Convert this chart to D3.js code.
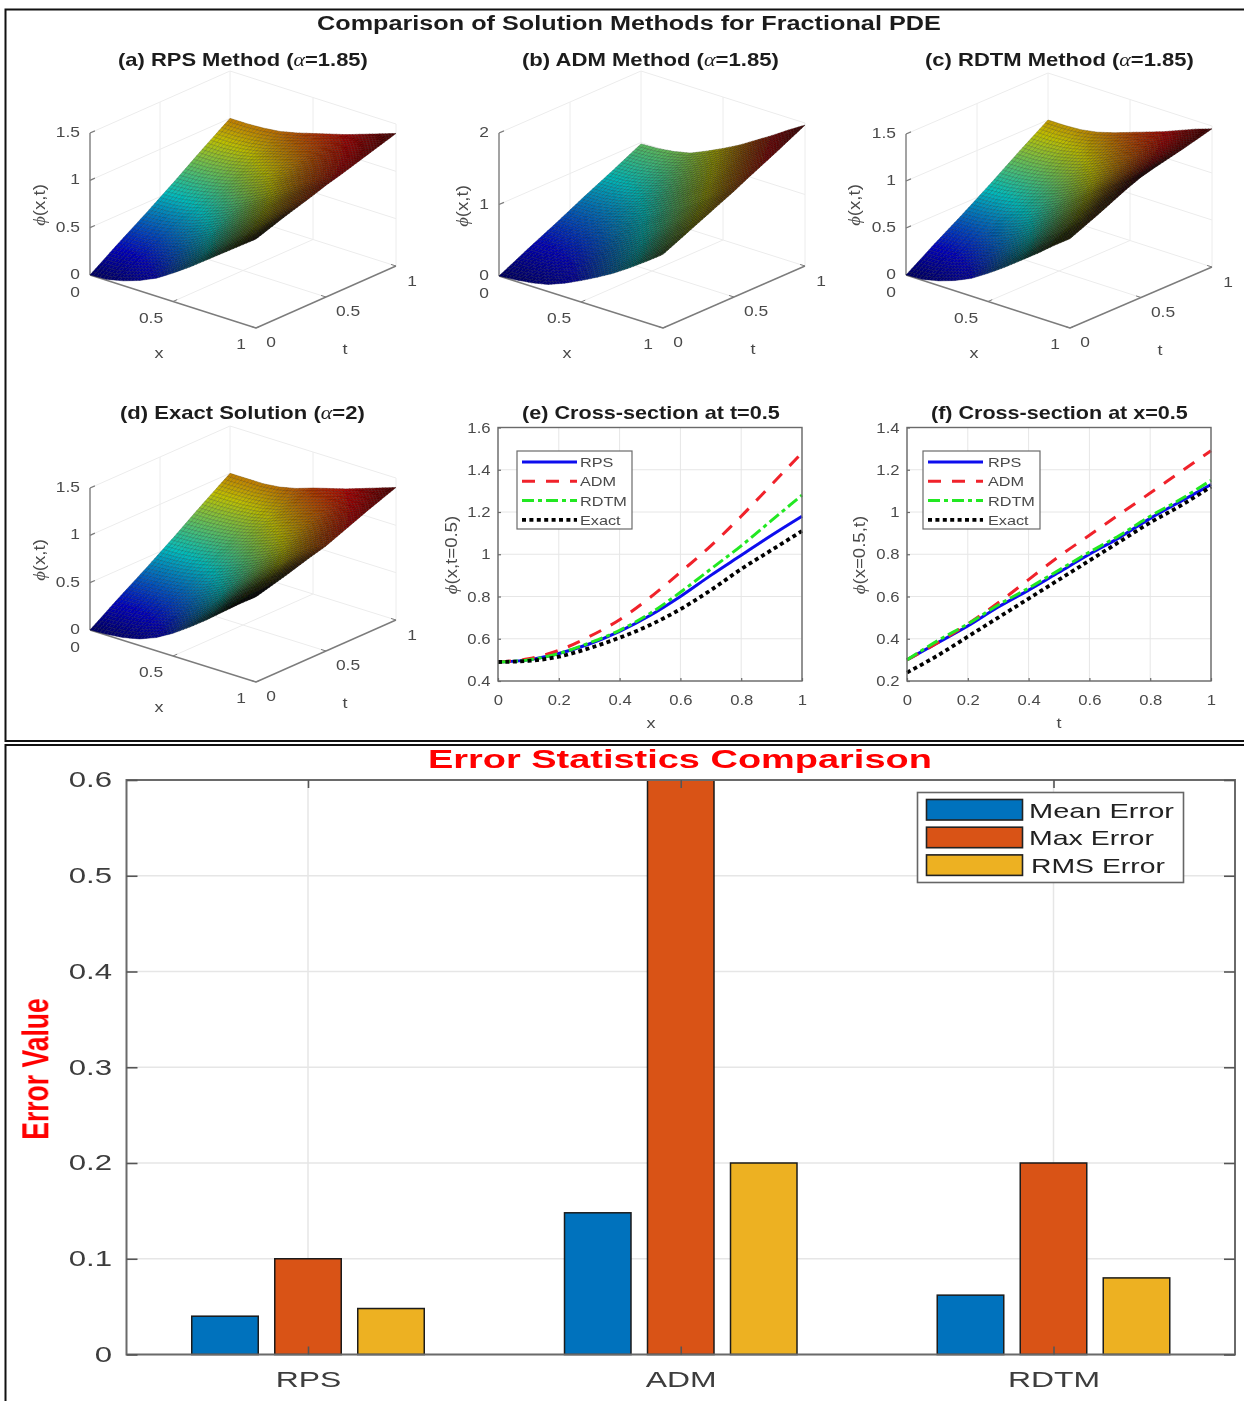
<!DOCTYPE html>
<html><head><meta charset="utf-8">
<script src="https://cdn.jsdelivr.net/npm/d3@7"></script>
<style>html,body{margin:0;padding:0;background:#fff;overflow:hidden}svg{display:block}text{font-family:"Liberation Sans",Arial,sans-serif}</style>
</head><body><svg id="c" width="1244" height="1401"></svg>
<script>
// ---------- data ----------
const gridX = [0,.1,.2,.3,.4,.5,.6,.7,.8,.9,1];
const gridT = [0,.2,.4,.5,.6,.8,1];
const surfRPS = [
 [0,.01,.05,.11,.19,.30,.42,.55,.68,.81,.94],
 [.20,.21,.24,.30,.37,.47,.58,.69,.81,.92,1.04],
 [.39,.40,.43,.48,.55,.63,.73,.83,.94,1.04,1.13],
 [.49,.50,.53,.575,.635,.71,.80,.90,.995,1.09,1.18],
 [.59,.60,.63,.67,.74,.81,.89,.98,1.06,1.14,1.22],
 [.80,.80,.82,.86,.92,.97,1.03,1.10,1.17,1.24,1.31],
 [1.0,1.0,1.01,1.03,1.07,1.12,1.17,1.22,1.28,1.34,1.40]];
const surfADM = [
 [0,.02,.05,.10,.19,.30,.42,.55,.70,.86,1.03],
 [.20,.21,.25,.30,.39,.50,.62,.75,.90,1.05,1.21],
 [.39,.41,.45,.51,.60,.70,.83,.95,1.09,1.24,1.39],
 [.49,.505,.545,.61,.69,.795,.915,1.04,1.18,1.33,1.48],
 [.59,.60,.64,.70,.79,.90,1.02,1.15,1.29,1.43,1.58],
 [.78,.79,.83,.89,.98,1.09,1.21,1.34,1.48,1.63,1.77],
 [.98,.99,1.02,1.07,1.17,1.28,1.40,1.54,1.68,1.83,1.97]];
const surfRDTM = [
 [0,.01,.05,.11,.19,.30,.42,.55,.68,.82,.95],
 [.20,.21,.24,.30,.37,.47,.58,.70,.82,.95,1.08],
 [.39,.40,.43,.48,.55,.64,.74,.85,.97,1.09,1.22],
 [.49,.50,.53,.58,.64,.72,.82,.93,1.04,1.16,1.28],
 [.59,.60,.63,.67,.73,.81,.90,1.00,1.10,1.21,1.32],
 [.80,.80,.82,.86,.91,.98,1.06,1.13,1.22,1.31,1.39],
 [1.0,1.0,1.01,1.04,1.09,1.15,1.21,1.27,1.34,1.41,1.47]];
const surfExact = [
 [0,.01,.03,.07,.14,.24,.36,.49,.63,.77,.90],
 [.20,.21,.23,.26,.32,.41,.51,.63,.75,.87,.98],
 [.39,.40,.42,.45,.50,.58,.66,.76,.86,.97,1.07],
 [.49,.495,.515,.555,.605,.665,.74,.83,.93,1.02,1.11],
 [.59,.60,.62,.65,.70,.76,.83,.91,1.00,1.09,1.17],
 [.80,.80,.81,.83,.87,.94,1.00,1.06,1.14,1.21,1.29],
 [1.0,1.0,1.0,1.02,1.06,1.12,1.17,1.22,1.28,1.34,1.40]];
const lineNames = ["RPS","ADM","RDTM","Exact"];
const crossE = {
 RPS:[.49,.50,.53,.575,.635,.71,.80,.90,.995,1.09,1.18],
 ADM:[.49,.505,.545,.61,.69,.795,.915,1.04,1.18,1.33,1.48],
 RDTM:[.49,.50,.53,.58,.64,.72,.82,.93,1.04,1.16,1.28],
 Exact:[.49,.495,.515,.555,.605,.665,.74,.83,.93,1.02,1.11]};
const crossF = {
 RPS:[.30,.38,.46,.55,.63,.715,.80,.88,.97,1.05,1.13],
 ADM:[.30,.38,.47,.57,.68,.79,.89,.99,1.09,1.19,1.29],
 RDTM:[.30,.39,.47,.56,.64,.725,.81,.89,.98,1.06,1.15],
 Exact:[.24,.32,.41,.50,.59,.68,.77,.86,.95,1.03,1.12]};
const barCats = ["RPS","ADM","RDTM"];
const barSeries = ["Mean Error","Max Error","RMS Error"];
const meanErr = [.04,.148,.062];
const maxErr = [.1,.6,.2];
const rmsErr = [.048,.2,.08];
const barTicks = [0,.1,.2,.3,.4,.5,.6];

// ---------- styles / layout ----------
const svg = d3.select("#c");
const defs = svg.append("defs");
defs.append("filter").attr("id","b1").attr("x","-5%").attr("y","-5%").attr("width","110%").attr("height","110%")
  .append("feGaussianBlur").attr("stdDeviation",.5);
defs.append("filter").attr("id","b2").attr("x","-5%").attr("y","-5%").attr("width","110%").attr("height","110%")
  .append("feGaussianBlur").attr("stdDeviation",.35);
const gridCol="#e6e6e6", wallCol="#ececec", axCol="#6a6a6a", axCol3="#7c7c7c", txtCol="#4a4a4a";
const jet = d3.scaleLinear().domain([0,.125,.375,.625,.875,1])
  .range(["#000080","#0000ff","#00ffff","#ffff00","#ff0000","#800000"]);

// frames
svg.append("rect").attr("x",5.5).attr("y",9.5).attr("width",1260).attr("height",731.5).attr("fill","none").attr("stroke","#111").attr("stroke-width",2);
svg.append("rect").attr("x",5.5).attr("y",745).attr("width",1260).attr("height",680).attr("fill","none").attr("stroke","#111").attr("stroke-width",2);

const upper = svg.append("g").attr("filter","url(#b1)");

function fit(sel,x,y,w,anchor){ // stretch a text to the width it has in the picture
  const n=sel.node(), l=n.getComputedTextLength();
  sel.attr("text-anchor",anchor||"start").attr("transform",`translate(${x},${y}) scale(${w/l},1)`);
  return sel;
}
function titleText(g,parts,x,y,w,size,col){
  const t=g.append("text").attr("font-size",size).attr("font-weight","bold").attr("fill",col||"#1c1c1c");
  parts.forEach(p=>{const s=t.append("tspan").text(p.t);
    if(p.g) s.attr("font-family","'Liberation Serif',serif").attr("font-style","italic").attr("font-weight","normal");});
  fit(t,x,y,w);
}
titleText(upper,[{t:"Comparison of Solution Methods for Fractional PDE"}],317,30,624,20.5);
const subTitles=[
 {p:[{t:"(a) RPS Method ("},{t:"α",g:1},{t:"=1.85)"}],x:118,y:66,w:250},
 {p:[{t:"(b) ADM Method ("},{t:"α",g:1},{t:"=1.85)"}],x:522,y:66,w:257},
 {p:[{t:"(c) RDTM Method ("},{t:"α",g:1},{t:"=1.85)"}],x:925,y:66,w:269},
 {p:[{t:"(d) Exact Solution ("},{t:"α",g:1},{t:"=2)"}],x:120,y:419,w:245},
 {p:[{t:"(e) Cross-section at t=0.5"}],x:522,y:419,w:258},
 {p:[{t:"(f) Cross-section at x=0.5"}],x:931,y:419,w:257}];
subTitles.forEach(s=>titleText(upper,s.p,s.x,s.y,s.w,18));

function lab(g,str,x,y,size,sx,anchor){
  return g.append("text").text(str).attr("font-size",size).attr("fill",txtCol).attr("text-anchor",anchor||"middle")
    .attr("transform",`translate(${x},${y}) scale(${sx||1.2},1)`).attr("dy",".35em");
}
function phiLabel(g,str,x,y){
  const t=g.append("text").attr("font-size",14).attr("fill",txtCol).attr("text-anchor","middle")
    .attr("transform",`translate(${x},${y}) rotate(-90) scale(1.33,1.15)`);
  t.append("tspan").text("ϕ").attr("font-family","'Liberation Serif',serif").attr("font-style","italic");
  t.append("tspan").text(str);
}

// ---------- 3-D surfaces ----------
const panels=[
 {z:surfRPS, o:[90,275], vx:[166,53], vt:[140,-62], h:142, top:1.5, zt:[0,.5,1,1.5], ph:-50},
 {z:surfADM, o:[499,276],vx:[164,52], vt:[142,-62], h:143, top:2,   zt:[0,1,2],      ph:-36},
 {z:surfRDTM,o:[906,275],vx:[164,53], vt:[142,-61], h:141, top:1.5, zt:[0,.5,1,1.5], ph:-51},
 {z:surfExact,o:[90,630],vx:[166,52], vt:[140,-62], h:142, top:1.5, zt:[0,.5,1,1.5], ph:-50}];
const SUB=50;
const uX=d3.scaleLinear().domain(gridX).range(d3.range(gridX.length));
const uT=d3.scaleLinear().domain(gridT).range(d3.range(gridT.length));
panels.forEach(P=>{
  const g=upper.append("g");
  const xX=d3.scaleLinear().domain([0,1]).range([0,P.vx[0]]), xY=d3.scaleLinear().domain([0,1]).range([0,P.vx[1]]);
  const tX=d3.scaleLinear().domain([0,1]).range([0,P.vt[0]]), tY=d3.scaleLinear().domain([0,1]).range([0,P.vt[1]]);
  const zY=d3.scaleLinear().domain([0,P.top]).range([0,-P.h]);
  const pr=(x,t,z)=>[P.o[0]+xX(x)+tX(t),P.o[1]+xY(x)+tY(t)+zY(z)];
  const seg=(a,b,col,w)=>g.append("line").attr("x1",a[0]).attr("y1",a[1]).attr("x2",b[0]).attr("y2",b[1]).attr("stroke",col).attr("stroke-width",w);
  // walls & floor
  P.zt.forEach(z=>{ if(z>0) seg(pr(0,0,z),pr(0,1,z),wallCol,1); if(z>0) seg(pr(0,1,z),pr(1,1,z),wallCol,1); });
  seg(pr(.5,1,0),pr(.5,1,P.top),wallCol,1); seg(pr(.5,0,0),pr(.5,1,0),wallCol,1);
  seg(pr(0,.5,0),pr(0,.5,P.top),wallCol,1); seg(pr(0,.5,0),pr(1,.5,0),wallCol,1);
  seg(pr(0,1,0),pr(0,1,P.top),wallCol,1); seg(pr(1,1,0),pr(1,1,P.top),wallCol,1);
  seg(pr(0,0,0),pr(0,1,0),wallCol,1); seg(pr(0,1,0),pr(1,1,0),wallCol,1);
  // axes
  seg(pr(0,0,0),pr(0,0,P.top),axCol3,1.4); seg(pr(0,0,0),pr(1,0,0),axCol3,1.4); seg(pr(1,0,0),pr(1,1,0),axCol3,1.4);
  P.zt.forEach(z=>seg(pr(0,0,z),pr(0,.035,z),axCol3,1.2));
  [0,.5,1].forEach(v=>{seg(pr(v,0,0),pr(v,.03,0),axCol3,1); seg(pr(1,v,0),pr(.97,v,0),axCol3,1);});
  // facets, far to near; a facet seen edge-on gets darker because its mesh lines crowd together
  const val=(xv,tv)=>{
    const a=uX(xv),b=uT(tv),i=Math.min(Math.floor(a),gridX.length-2),j=Math.min(Math.floor(b),gridT.length-2),fa=a-i,fb=b-j;
    const r0=P.z[j],r1=P.z[j+1];
    return (r0[i]*(1-fa)+r0[i+1]*fa)*(1-fb)+(r1[i]*(1-fa)+r1[i+1]*fa)*fb;
  };
  const zmax=d3.max(P.z.flat());
  const pxPerZ=P.h/P.top;
  const facets=[];
  for(let j=SUB-1;j>=0;j--) for(let i=0;i<SUB;i++){
    const x0=i/SUB,x1=(i+1)/SUB,t0=j/SUB,t1=(j+1)/SUB;
    const zs=[val(x0,t0),val(x1,t0),val(x1,t1),val(x0,t1)];
    const pts=[pr(x0,t0,zs[0]),pr(x1,t0,zs[1]),pr(x1,t1,zs[2]),pr(x0,t1,zs[3])];
    // local slopes over a wide window so the shading stays smooth
    const xc=(x0+x1)/2,tc=(t0+t1)/2;
    const xa=Math.max(0,xc-.15),xb=Math.min(1,xc+.15),ta=Math.max(0,tc-.25),tb=Math.min(1,tc+.25);
    const sx=(val(xb,tc)-val(xa,tc))/(xb-xa), st=(val(xc,tb)-val(xc,ta))/(tb-ta);
    const ex=[P.vx[0]/SUB,(P.vx[1]-sx*pxPerZ)/SUB], et=[P.vt[0]/SUB,(P.vt[1]-st*pxPerZ)/SUB];
    const area=Math.abs(ex[0]*et[1]-ex[1]*et[0]);
    const dark=Math.min(.97,.42*(Math.hypot(...ex)+Math.hypot(...et))/Math.max(area,.1));
    facets.push({pts,z:d3.mean(zs),dark});
  }
  const ln=d3.line();
  g.append("g").selectAll("path").data(facets).join("path")
    .attr("d",d=>ln(d.pts)+"Z").attr("fill",d=>d3.interpolateRgb(jet(d.z/zmax),"#000")(d.dark))
    .attr("stroke",d=>d3.interpolateRgb(jet(d.z/zmax),"#000")(Math.min(1,d.dark+.3))).attr("stroke-width",.4).attr("stroke-linejoin","round");
  // labels
  P.zt.forEach(z=>{const q=pr(0,0,z); lab(g,String(z),q[0]-10,q[1]-1,14.5,1.2,"end");});
  const xo=[[-15,17],[-22,16],[-15,16]], to=[[15,14],[22,14],[16,15]];
  [0,.5,1].forEach((v,i)=>{
    const q=pr(v,0,0); lab(g,String(v),q[0]+xo[i][0],q[1]+xo[i][1],14.5,1.2);
    const r=pr(1,v,0); lab(g,String(v),r[0]+to[i][0],r[1]+to[i][1],14.5,1.2);
  });
  const mx=pr(.5,0,0), mt=pr(1,.5,0);
  lab(g,"x",mx[0]-14,mx[1]+51,15,1.2); lab(g,"t",mt[0]+19,mt[1]+52,15,1.2);
  phiLabel(g,"(x,t)",P.o[0]+P.ph+5,P.o[1]-70);
});

// ---------- 2-D cross-sections ----------
const lineStyle={
 RPS:{c:"#0a0aee",w:3,d:null},
 ADM:{c:"#f0202a",w:3,d:"13 11"},
 RDTM:{c:"#22e822",w:3,d:"12 4 4 4"},
 Exact:{c:"#000",w:3.8,d:"4 3.4"}};
const lineGrid=[0,.1,.2,.3,.4,.5,.6,.7,.8,.9,1];
const panels2=[
 {d:crossE,x0:498,x1:802,yd:[.4,1.6],yt:[.4,.6,.8,1,1.2,1.4,1.6],xl:"x",yl:"(x,t=0.5)",yx:457,lx:517,lw:115,ltx:63,xlx:651},
 {d:crossF,x0:907,x1:1211,yd:[.2,1.4],yt:[.2,.4,.6,.8,1,1.2,1.4],xl:"t",yl:"(x=0.5,t)",yx:865,lx:923,lw:117,ltx:65,xlx:1059}];
panels2.forEach(P=>{
  const g=upper.append("g");
  const y0=681,y1=427.5;
  const x=d3.scaleLinear().domain([0,1]).range([P.x0,P.x1]);
  const y=d3.scaleLinear().domain(P.yd).range([y0,y1]);
  const xt=[0,.2,.4,.6,.8,1];
  g.append("g").selectAll("line").data(xt).join("line").attr("x1",x).attr("x2",x).attr("y1",y0).attr("y2",y1).attr("stroke",gridCol).attr("stroke-width",1);
  g.append("g").selectAll("line").data(P.yt).join("line").attr("y1",y).attr("y2",y).attr("x1",P.x0).attr("x2",P.x1).attr("stroke",gridCol).attr("stroke-width",1);
  const line=d3.line().x((d,i)=>x(lineGrid[i])).y(d=>y(d)).curve(d3.curveMonotoneX);
  lineNames.forEach(n=>{const s=lineStyle[n];
    g.append("path").datum(P.d[n]).attr("d",line).attr("fill","none").attr("stroke",s.c).attr("stroke-width",s.w).attr("stroke-dasharray",s.d);});
  g.append("rect").attr("x",P.x0).attr("y",y1).attr("width",P.x1-P.x0).attr("height",y0-y1).attr("fill","none").attr("stroke",axCol).attr("stroke-width",1.4);
  const ax=g.append("g").attr("transform",`translate(0,${y0})`).call(d3.axisBottom(x).tickValues(xt).tickFormat(String).tickSizeInner(-3).tickSizeOuter(0).tickPadding(14));
  const ay=g.append("g").attr("transform",`translate(${P.x0},0)`).call(d3.axisLeft(y).tickValues(P.yt).tickFormat(String).tickSizeInner(-3).tickSizeOuter(0).tickPadding(6.5));
  [ax,ay].forEach(a=>{a.select(".domain").remove(); a.selectAll("line").attr("stroke",axCol).attr("stroke-width",1.2);
    a.selectAll("text").attr("font-size",14.5).attr("fill",txtCol).attr("font-family","Liberation Sans").attr("transform","scale(1.15,1)");});
  lab(g,P.xl,P.xlx,723,15,1.2);
  phiLabel(g,P.yl,P.yx,555);
  // legend
  const L=g.append("g");
  L.append("rect").attr("x",P.lx).attr("y",451).attr("width",P.lw).attr("height",78).attr("fill","#fff").attr("stroke",axCol).attr("stroke-width",1.2);
  lineNames.forEach((n,i)=>{const s=lineStyle[n],yy=462+i*19.3;
    L.append("line").attr("x1",P.lx+5).attr("x2",P.lx+60).attr("y1",yy).attr("y2",yy).attr("stroke",s.c).attr("stroke-width",s.w).attr("stroke-dasharray",s.d);
    lab(L,n,P.lx+P.ltx,yy+.5,13,1.25,"start");});
});

// ---------- bar chart ----------
const bot=svg.append("g").attr("filter","url(#b2)");
const by0=1354.5, by1=780, bx0=126.5, bx1=1235;
const yB=d3.scaleLinear().domain([0,.6]).range([by0,by1]);
const xB=d3.scalePoint().domain(barCats).range([308,1053.5]);
const off=d3.scalePoint().domain(barSeries).range([-83,83]);
const barVals={"Mean Error":meanErr,"Max Error":maxErr,"RMS Error":rmsErr};
const barCol={"Mean Error":"#0072BD","Max Error":"#D95319","RMS Error":"#EDB120"};
const barW=66.5;
bot.append("g").selectAll("line").data(barCats).join("line").attr("x1",xB).attr("x2",xB).attr("y1",by0).attr("y2",by1).attr("stroke",gridCol).attr("stroke-width",1.5);
bot.append("g").selectAll("line").data(barTicks).join("line").attr("y1",yB).attr("y2",yB).attr("x1",bx0).attr("x2",bx1).attr("stroke",gridCol).attr("stroke-width",1.5);
barSeries.forEach(s=>{
  bot.append("g").selectAll("rect").data(barVals[s].map((v,i)=>({v,c:barCats[i]}))).join("rect")
   .attr("x",d=>xB(d.c)+off(s)-barW/2).attr("width",barW).attr("y",d=>yB(d.v)).attr("height",d=>by0-yB(d.v))
   .attr("fill",barCol[s]).attr("stroke","#1a1a1a").attr("stroke-width",1.5);
});
bot.append("rect").attr("x",bx0).attr("y",by1).attr("width",bx1-bx0).attr("height",by0-by1).attr("fill","none").attr("stroke",axCol).attr("stroke-width",2);
const axB=bot.append("g").attr("transform",`translate(0,${by0})`).call(d3.axisBottom(xB).tickSizeInner(-8).tickSizeOuter(0).tickPadding(15));
const axT=bot.append("g").attr("transform",`translate(0,${by1})`).call(d3.axisTop(xB).tickSizeInner(-8).tickSizeOuter(0).tickFormat(""));
const axL=bot.append("g").attr("transform",`translate(${bx0},0)`).call(d3.axisLeft(yB).tickValues(barTicks).tickFormat(String).tickSizeInner(-11).tickSizeOuter(0).tickPadding(10));
const axR=bot.append("g").attr("transform",`translate(${bx1},0)`).call(d3.axisRight(yB).tickValues(barTicks).tickSizeInner(-11).tickSizeOuter(0).tickFormat(""));
[axB,axT,axL,axR].forEach(a=>{a.select(".domain").remove(); a.selectAll("line").attr("stroke","#555").attr("stroke-width",1.6);});
axB.selectAll("text").attr("font-size",22).attr("fill","#3c3c3c").attr("font-family","Liberation Sans").attr("transform","translate(0,2) scale(1.45,1)");
axL.selectAll("text").attr("font-size",21.5).attr("fill","#3c3c3c").attr("font-family","Liberation Sans").attr("transform","scale(1.45,1)");
fit(bot.append("text").text("Error Statistics Comparison").attr("font-size",26).attr("font-weight","bold").attr("fill","#ff0000"),428,768,504);
bot.append("text").text("Error Value").attr("font-size",26.5).attr("font-weight","bold").attr("fill","#ff0000").attr("text-anchor","middle")
  .attr("transform","translate(48.5,1069) rotate(-90) scale(1,1.42)");
const LB=bot.append("g");
LB.append("rect").attr("x",917.5).attr("y",792.5).attr("width",266).attr("height",90).attr("fill","#fff").attr("stroke","#666").attr("stroke-width",1.6);
barSeries.forEach((s,i)=>{
  const yy=799.5+i*27.7;
  LB.append("rect").attr("x",926.5).attr("y",yy).attr("width",96).attr("height",20.5).attr("fill",barCol[s]).attr("stroke","#222").attr("stroke-width",1.6);
  const t=LB.append("text").text(s).attr("font-size",20.5).attr("fill","#222");
  fit(t,i==2?1031:1029,yy+18,[145,125,134][i]);
});
</script></body></html>
